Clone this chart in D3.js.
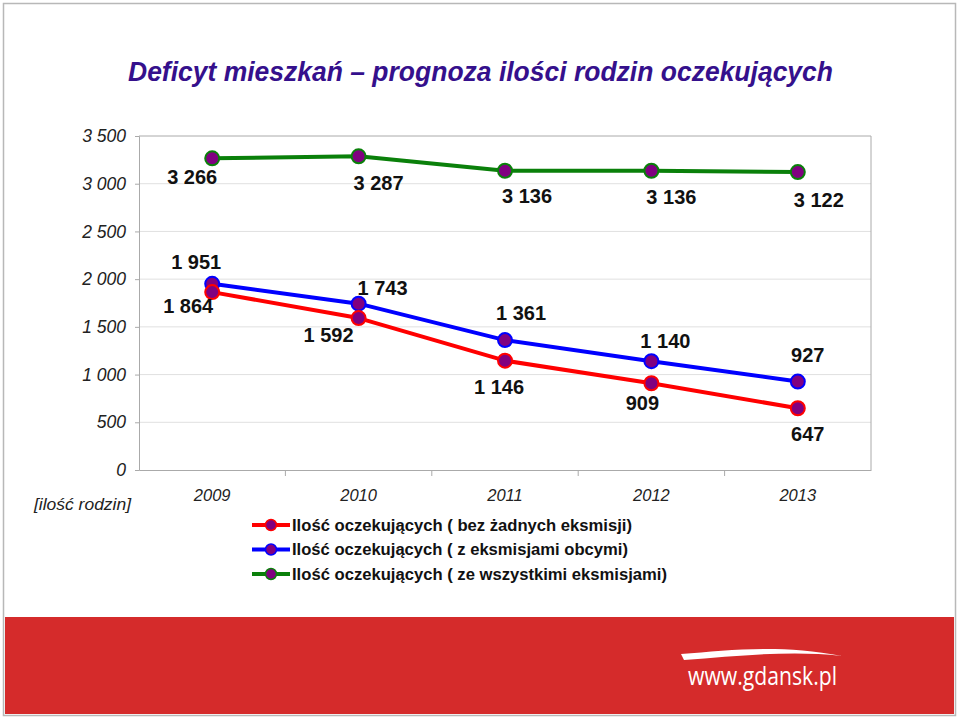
<!DOCTYPE html>
<html>
<head>
<meta charset="utf-8">
<script src="https://cdn.jsdelivr.net/npm/d3@7"></script>
<style>
  html, body { margin: 0; padding: 0; background: #fff; }
  svg { display: block; }
</style>
</head>
<body>
<svg id="chart" width="960" height="718"></svg>
<script>
// ---- data ----
const years = ["2009", "2010", "2011", "2012", "2013"];
const bezEksmisji = [1864, 1592, 1146, 909, 647];
const eksmisjeObce = [1951, 1743, 1361, 1140, 927];
const wszystkieEksmisje = [3266, 3287, 3136, 3136, 3122];
const yTicks = [0, 500, 1000, 1500, 2000, 2500, 3000, 3500];
const seriesNames = [
  "Ilość oczekujących ( bez żadnych eksmisji)",
  "Ilość oczekujących ( z eksmisjami obcymi)",
  "Ilość oczekujących ( ze wszystkimi eksmisjami)"
];
const titleText = "Deficyt mieszkań – prognoza ilości rodzin oczekujących";
const yAxisTitle = "[ilość rodzin]";

// ---- layout / style ----
const colors = ["#FF0000", "#0000FF", "#0A800A"];
const labelOffsets = [
  [[-24, 14], [-30, 17], [-6, 26], [-9, 20], [10, 26]],
  [[-16, -22], [24, -16], [16, -27], [14, -20], [10, -27]],
  [[-20, 19], [20, 27], [22, 25], [20, 26], [21, 28]]
];
const legendTextWidths = [340, 336, 375];

const series = [bezEksmisji, eksmisjeObce, wszystkieEksmisje].map((v, i) => ({
  name: seriesNames[i], values: v, color: colors[i], offsets: labelOffsets[i]
}));

const svg = d3.select("#chart");
const fmt = d3.formatLocale({ decimal: ",", thousands: " ", grouping: [3], currency: ["", ""] }).format(",d");

// frame
svg.append("rect").attr("x", 3.5).attr("y", 3.5).attr("width", 952).attr("height", 712)
  .attr("fill", "#fff").attr("stroke", "#b8b8b8").attr("stroke-width", 1.5);

// bottom red band
svg.append("rect").attr("x", 5).attr("y", 617).attr("width", 949).attr("height", 97)
  .attr("fill", "#D52B2B");
svg.append("path")
  .attr("d", "M681,654 C730,650 780,644 842,656 C790,650 740,656 684,660 Z")
  .attr("fill", "#fff");
svg.append("text").attr("x", 688).attr("y", 685)
  .attr("font-family", "'Open Sans', 'DejaVu Sans', sans-serif").attr("font-size", 25)
  .attr("fill", "#fff").attr("textLength", 149).attr("lengthAdjust", "spacingAndGlyphs")
  .text("www.gdansk.pl");

// title
svg.append("text").attr("x", 128).attr("y", 81)
  .attr("font-family", "'Liberation Sans', Arial, sans-serif")
  .attr("font-size", 27.5).attr("font-weight", "bold").attr("font-style", "italic")
  .attr("fill", "#35108C").attr("textLength", 705).attr("lengthAdjust", "spacingAndGlyphs")
  .text(titleText);

// scales
const x = d3.scaleBand().domain(years).range([139, 871]).padding(0);
const y = d3.scaleLinear().domain([0, 3500]).range([470, 136]);
const cx = d => x(d) + x.bandwidth() / 2;

const g = svg.append("g").attr("font-family", "'Liberation Sans', Arial, sans-serif");

// gridlines
g.append("g").selectAll("line").data(yTicks.filter(t => t > 0)).join("line")
  .attr("x1", 139).attr("x2", 871).attr("y1", d => y(d)).attr("y2", d => y(d))
  .attr("stroke", d => d === 3500 ? "#aaaaaa" : "#e0e0e0").attr("stroke-width", 1);

// right border
g.append("line").attr("x1", 871).attr("x2", 871).attr("y1", y(3500)).attr("y2", y(0))
  .attr("stroke", "#aaaaaa");

// y axis
const yAxis = d3.axisLeft(y).tickValues(yTicks).tickFormat(fmt).tickSize(4).tickPadding(9);
const yg = g.append("g").attr("transform", "translate(139,0)").call(yAxis);
yg.select(".domain").attr("stroke", "#aaaaaa");
yg.selectAll(".tick line").attr("stroke", "#aaaaaa");
yg.selectAll(".tick text").attr("font-size", 17.5).attr("font-style", "italic")
  .attr("fill", "#222").attr("font-family", "'Liberation Sans', Arial, sans-serif");

// x axis
const xAxis = d3.axisBottom(x).tickSize(0).tickPadding(19);
const xg = g.append("g").attr("transform", "translate(0,470)").call(xAxis);
xg.select(".domain").attr("stroke", "#aaaaaa");
xg.selectAll(".tick text").attr("font-size", 16.5).attr("font-style", "italic")
  .attr("fill", "#222").attr("font-family", "'Liberation Sans', Arial, sans-serif");
g.append("g").selectAll("line").data(years.slice(1)).join("line")
  .attr("x1", d => x(d)).attr("x2", d => x(d)).attr("y1", 470).attr("y2", 476)
  .attr("stroke", "#aaaaaa");

// y axis title
g.append("text").attr("x", 34).attr("y", 510)
  .attr("font-size", 17).attr("font-style", "italic").attr("fill", "#222")
  .attr("textLength", 97).attr("lengthAdjust", "spacingAndGlyphs")
  .text(yAxisTitle);

// lines & markers
const line = d3.line().x((d, i) => cx(years[i])).y(d => y(d));
const drawOrder = [2, 1, 0];
drawOrder.forEach(si => {
  const s = series[si];
  g.append("path").datum(s.values).attr("d", line)
    .attr("fill", "none").attr("stroke", s.color).attr("stroke-width", 4)
    .attr("stroke-linejoin", "round");
});
drawOrder.forEach(si => {
  const s = series[si];
  g.append("g").selectAll("circle").data(s.values).join("circle")
    .attr("cx", (d, i) => cx(years[i])).attr("cy", d => y(d)).attr("r", 7)
    .attr("fill", "#800080").attr("stroke", s.color).attr("stroke-width", 2);
});

// data labels
series.forEach(s => {
  g.append("g").selectAll("text").data(s.values).join("text")
    .attr("x", (d, i) => cx(years[i]) + s.offsets[i][0])
    .attr("y", (d, i) => y(d) + s.offsets[i][1])
    .attr("text-anchor", "middle").attr("dominant-baseline", "central")
    .attr("font-size", 20).attr("font-weight", "bold").attr("fill", "#111")
    .text(d => fmt(d));
});

// legend
const leg = g.append("g");
series.forEach((s, i) => {
  const ly = 525 + i * 24.5;
  leg.append("line").attr("x1", 252).attr("x2", 290).attr("y1", ly).attr("y2", ly)
    .attr("stroke", s.color).attr("stroke-width", 4);
  leg.append("circle").attr("cx", 271).attr("cy", ly).attr("r", 5.5)
    .attr("fill", "#800080").attr("stroke", s.color).attr("stroke-width", 1.5);
  leg.append("text").attr("x", 292).attr("y", ly).attr("dominant-baseline", "central")
    .attr("font-size", 16).attr("font-weight", "bold").attr("fill", "#111")
    .attr("textLength", legendTextWidths[i]).attr("lengthAdjust", "spacingAndGlyphs")
    .text(s.name);
});
</script>
</body>
</html>
